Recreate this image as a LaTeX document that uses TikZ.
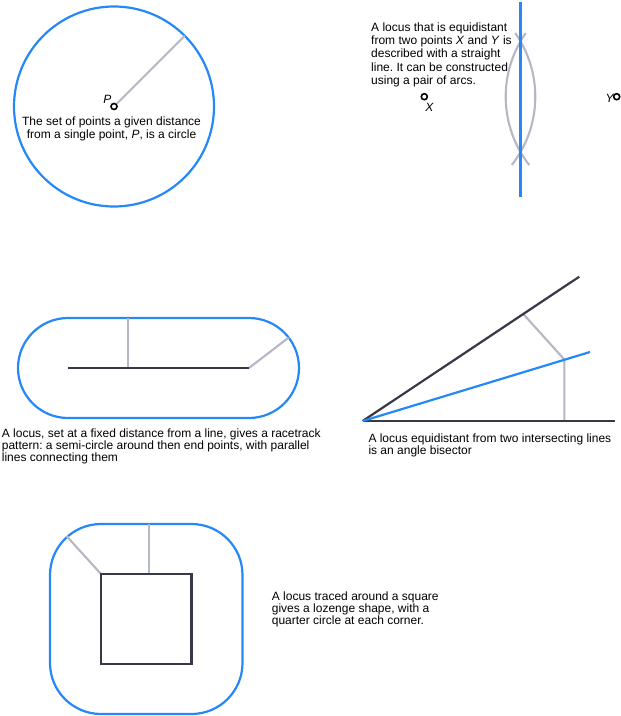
\documentclass[tikz,border=0pt]{standalone}
\usepackage{fontspec}
\setmainfont{Liberation Sans}
\usetikzlibrary{calc}
\definecolor{locusblue}{RGB}{36,136,248}
\definecolor{darkline}{RGB}{55,57,72}
\definecolor{greyline}{RGB}{180,183,196}
\tikzset{
  locus/.style={draw=locusblue, line width=2.2pt},
  base/.style={draw=darkline, line width=2.2pt},
  helper/.style={draw=greyline, line width=2.1pt},
  dot/.style={circle, draw=black, fill=white, line width=1.6pt, minimum size=6pt, inner sep=0pt},
  lab/.style={inner sep=0pt, font=\fontsize{12}{13}\selectfont\itshape},
  txt/.style={inner sep=0pt, align=left, anchor=north west},
}
\frenchspacing
\begin{document}
\begin{tikzpicture}[x=1pt, y=-1pt]
\useasboundingbox (0,0) rectangle (621,716);

% ---- circle locus ----
\coordinate (Pc) at (114,106.5);
\draw[locus] (Pc) circle[radius=100];
\coordinate (Prim) at ($(Pc)+(-45:100)$);
\draw[helper] (Pc) -- (Prim);
\node[dot] (P) at (Pc) {};
\node[lab, anchor=base east] (Plab) at (111.7,103.3) {P};
\node[inner sep=0pt, align=center, anchor=north, font=\fontsize{12}{13}\selectfont] (ctext) at (111.5,116.5)
  {The set of points a given distance\\from a single point, \textit{P}, is a circle};

% ---- perpendicular bisector ----
\coordinate (Xc) at (424.3,96.7);
\coordinate (Yc) at (616.7,96.7);
\draw[helper] (Xc) ++(-35:111) arc[start angle=-35, end angle=38, radius=111];
\draw[helper] (Yc) ++(142:111) arc[start angle=142, end angle=215, radius=111];
\coordinate (bt) at (520.5,1.5);
\coordinate (bb) at (520.5,196.7);
\draw[locus] (bt) -- (bb);
\node[dot] (X) at (Xc) {};
\node[dot] (Y) at (Yc) {};
\node[lab, anchor=base west] (Xlab) at (425.2,111) {X};
\node[lab, anchor=base east] (Ylab) at (613.8,102.3) {Y};
\node[txt, font=\fontsize{12}{13.2}\selectfont] (btext) at (371,22.5)
  {A locus that is equidistant\\from two points \textit{X} and \textit{Y} is\\described with a straight\\line. It can be constructed\\using a pair of arcs.};

% ---- racetrack ----
\draw[locus, rounded corners=50pt] (18,318) rectangle (299,418);
\coordinate (La) at (68,368);
\coordinate (Lb) at (249,368);
\coordinate (Lm) at (128,368);
\coordinate (Lt) at (128,318);
\coordinate (Lr) at ($(Lb)+(-37.5:50)$);
\draw[helper] (Lm) -- (Lt);
\draw[helper] (Lb) -- (Lr);
\draw[base] (La) -- (Lb);
\node[txt, font=\fontsize{12}{12.3}\selectfont] (rtext) at (1.7,428.3)
  {A locus, set at a fixed distance from a line, gives a racetrack\\pattern: a semi-circle around then end points, with parallel\\lines connecting them};

% ---- angle bisector ----
\coordinate (O) at (362.7,421);
\coordinate (Ob) at (615,421);
\coordinate (Ou) at (579.3,276.7);
\coordinate (Obis) at (590,352);
\coordinate (Gu) at (523.3,314);
\coordinate (Gm) at (564.3,359.5);
\coordinate (Gb) at (564.3,421);
\draw[helper] (Gu) -- (Gm) -- (Gb);
\draw[base] (O) -- (Ob);
\draw[base] (O) -- (Ou);
\draw[locus] (O) -- (Obis);
\node[txt, font=\fontsize{12}{12.3}\selectfont] (atext) at (368.3,433.3)
  {A locus equidistant from two intersecting lines\\is an angle bisector};

% ---- square ----
\draw[locus, rounded corners=51pt] (50,524) rectangle (242.5,714);
\coordinate (Sa) at (101,574);
\coordinate (Sb) at (191.5,664);
\coordinate (Sd) at (66.5,536);
\coordinate (Sm) at (149.3,574);
\coordinate (St) at (149.3,524);
\draw[helper] (Sa) -- (Sd);
\draw[helper] (Sm) -- (St);
\draw[base] (Sa) rectangle (Sb);
\node[txt, font=\fontsize{12}{12.2}\selectfont] (stext) at (271.7,591.5)
  {A locus traced around a square\\gives a lozenge shape, with a\\quarter circle at each corner.};
\end{tikzpicture}
\end{document}
